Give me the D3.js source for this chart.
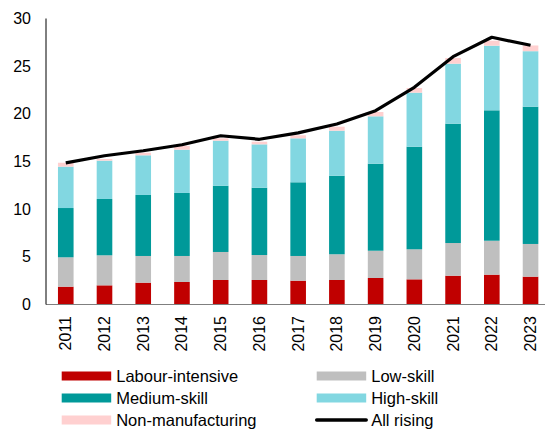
<!DOCTYPE html>
<html>
<head>
<meta charset="utf-8">
<script src="https://cdn.jsdelivr.net/npm/d3@7"></script>
<style>
  html, body { margin: 0; padding: 0; background: #fff; overflow: hidden; }
  svg { display: block; font-family: "Liberation Sans", Arial, sans-serif; }
</style>
</head>
<body>
<svg id="chart" width="545" height="433"></svg>
<script>
const years = ["2011","2012","2013","2014","2015","2016","2017","2018","2019","2020","2021","2022","2023"];
const labourIntensive = [1.87, 2.01, 2.29, 2.36, 2.57, 2.57, 2.50, 2.57, 2.78, 2.64, 3.02, 3.13, 2.92];
const lowSkill        = [3.08, 3.15, 2.80, 2.73, 2.94, 2.62, 2.59, 2.70, 2.86, 3.15, 3.43, 3.56, 3.43];
const mediumSkill     = [5.17, 5.91, 6.40, 6.61, 6.95, 7.06, 7.73, 8.24, 9.13, 10.76, 12.52, 13.68, 14.40];
const highSkill       = [4.34, 4.02, 4.16, 4.54, 4.72, 4.55, 4.61, 4.72, 4.97, 5.67, 6.29, 6.78, 5.82];
const nonManufacturing= [0.41, 0.17, 0.27, 0.39, 0.25, 0.28, 0.32, 0.42, 0.45, 0.49, 0.60, 0.52, 0.60];
const allRising       = [14.85, 15.6, 16.13, 16.76, 17.7, 17.33, 18.0, 18.93, 20.33, 22.78, 26.0, 28.03, 27.19];
const yTicks = [0, 5, 10, 15, 20, 25, 30];

const seriesNames = ["Labour-intensive", "Low-skill", "Medium-skill", "High-skill", "Non-manufacturing"];
const seriesValues = [labourIntensive, lowSkill, mediumSkill, highSkill, nonManufacturing];
const colors = ["#C00000", "#BFBFBF", "#009999", "#82D7E1", "#FFD0D0"];

const svg = d3.select("#chart");
const x0 = 46.4, plotRight = 549.9, yBottom = 304.5, yTop = 18.5;

const x = d3.scaleBand().domain(years).range([x0, plotRight]).paddingInner(0.597).paddingOuter(0.2985);
const y = d3.scaleLinear().domain([0, 30]).range([yBottom, yTop]);

const table = years.map((yr, i) => {
  const row = { year: yr };
  seriesNames.forEach((n, k) => row[n] = seriesValues[k][i]);
  return row;
});
const stacked = d3.stack().keys(seriesNames)(table);

// bars
svg.append("g").selectAll("g").data(stacked).join("g")
  .attr("fill", (d, i) => colors[i])
  .selectAll("rect").data(d => d).join("rect")
  .attr("x", d => x(d.data.year))
  .attr("width", x.bandwidth())
  .attr("y", d => y(d[1]))
  .attr("height", d => y(d[0]) - y(d[1]));

// x axis
svg.append("line").attr("x1", 46).attr("x2", 545).attr("y1", yBottom).attr("y2", yBottom)
  .attr("stroke", "#7f7f7f").attr("stroke-width", 1.2);

// y axis
svg.append("line").attr("x1", 46).attr("x2", 46).attr("y1", yTop).attr("y2", yBottom)
  .attr("stroke", "#000").attr("stroke-width", 1);

svg.append("g").selectAll("text").data(yTicks).join("text")
  .attr("x", 31).attr("y", d => y(d)).attr("dy", "0.35em")
  .attr("text-anchor", "end").attr("font-size", 16).attr("fill", "#000")
  .text(d => d);

// x labels rotated
svg.append("g").selectAll("text").data(years).join("text")
  .attr("transform", d => `translate(${x(d) + x.bandwidth()/2 + 5.5},316) rotate(-90)`)
  .attr("text-anchor", "end").attr("font-size", 16).attr("fill", "#000")
  .text(d => d);

// line
const line = d3.line()
  .x((d, i) => x(years[i]) + x.bandwidth()/2)
  .y(d => y(d));
svg.append("path").datum(allRising)
  .attr("d", line).attr("fill", "none").attr("stroke", "#000").attr("stroke-width", 3.2)
  .attr("stroke-linejoin", "round");

// legend
const legendItems = [
  { name: "Labour-intensive", color: colors[0], type: "rect", col: 0, row: 0 },
  { name: "Low-skill", color: colors[1], type: "rect", col: 1, row: 0 },
  { name: "Medium-skill", color: colors[2], type: "rect", col: 0, row: 1 },
  { name: "High-skill", color: colors[3], type: "rect", col: 1, row: 1 },
  { name: "Non-manufacturing", color: colors[4], type: "rect", col: 0, row: 2 },
  { name: "All rising", color: "#000", type: "line", col: 1, row: 2 }
];
const colX = [61.7, 316.7], rowY = [376, 398, 420];
const lg = svg.append("g").selectAll("g").data(legendItems).join("g")
  .attr("transform", d => `translate(${colX[d.col]},${rowY[d.row]})`);
lg.filter(d => d.type === "rect").append("rect")
  .attr("x", 0).attr("y", -4.5).attr("width", 49.5).attr("height", 9).attr("fill", d => d.color);
lg.filter(d => d.type === "line").append("line")
  .attr("x1", 0).attr("x2", 49.5).attr("y1", 0).attr("y2", 0)
  .attr("stroke", "#000").attr("stroke-width", 3.5).attr("stroke-linecap", "round");
lg.append("text").attr("x", 54.5).attr("y", 0).attr("dy", "0.35em")
  .attr("font-size", 16.5).attr("fill", "#000").text(d => d.name);
</script>
</body>
</html>
